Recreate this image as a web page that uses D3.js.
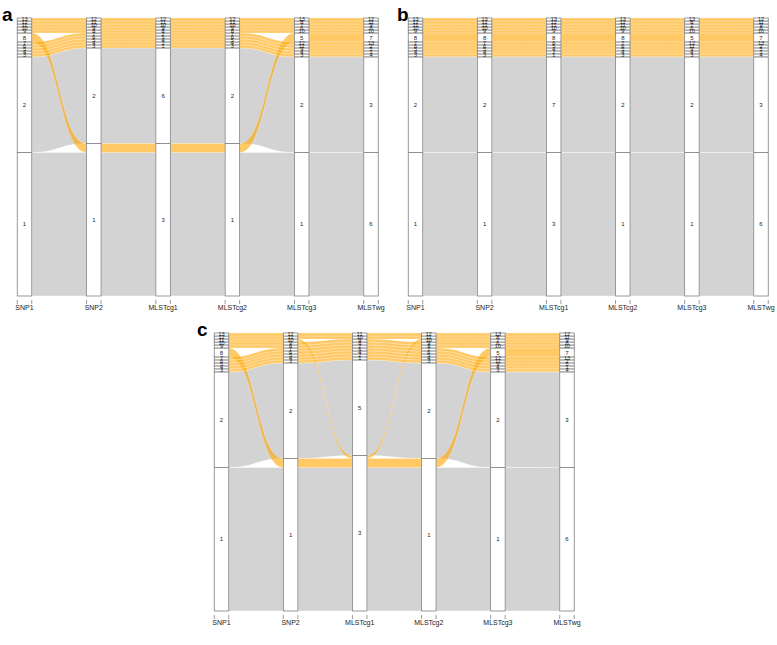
<!DOCTYPE html>
<html>
<head>
<meta charset="utf-8">
<script src="https://cdn.jsdelivr.net/npm/d3@7"></script>
<style>
  body { margin: 0; background: #fff; }
  svg { font-family: "Liberation Sans", Arial, sans-serif; }
</style>
</head>
<body>
<div id="chart"></div>
<script>
const W = 777, H = 645;
const BOX_W = 14.5;

const axes = ["SNP1", "SNP2", "MLSTcg1", "MLSTcg2", "MLSTcg3", "MLSTwg"];

// rows = groups of isolates, one cluster label per axis; counts = isolates in the group
// order of rows also gives stacking inside a stratum (first row at bottom)
const rowsA = [
  ["1", "1", "3", "1", "1", "6"],
  ["8", "1", "3", "1", "5", "7"],
  ["2", "2", "6", "2", "2", "3"],
  ["3", "3", "1", "3", "3", "4"],
  ["4", "4", "2", "4", "4", "1"],
  ["5", "5", "4", "5", "9", "5"],
  ["6", "6", "5", "6", "11", "2"],
  ["7", "7", "7", "7", "12", "13"],
  ["9", "8", "8", "8", "10", "10"],
  ["10", "9", "9", "9", "6", "8"],
  ["11", "10", "10", "10", "7", "9"],
  ["12", "11", "11", "11", "8", "11"],
  ["13", "12", "12", "12", "13", "12"]
];
const countsA = [48, 3, 32, 1, 1, 1, 1, 1, 1, 1, 1, 1, 1];
const orangeA = [false, true, false, true, true, true, true, true, true, true, true, true, true];
// strata per axis, bottom to top
const strataA = [
  ["1", "2", "3", "4", "5", "6", "7", "8", "9", "10", "11", "12", "13"],
  ["1", "2", "3", "4", "5", "6", "7", "8", "9", "10", "11", "12"],
  ["3", "6", "1", "2", "4", "5", "7", "8", "9", "10", "11", "12"],
  ["1", "2", "3", "4", "5", "6", "7", "8", "9", "10", "11", "12"],
  ["1", "2", "3", "4", "9", "11", "12", "5", "10", "6", "7", "8", "13"],
  ["6", "3", "4", "1", "5", "2", "13", "7", "10", "8", "9", "11", "12"]
];

const rowsB = [
  ["1", "1", "3", "1", "1", "6"],
  ["2", "2", "7", "2", "2", "3"],
  ["3", "3", "1", "3", "3", "4"],
  ["4", "4", "2", "4", "4", "1"],
  ["5", "5", "4", "5", "9", "5"],
  ["6", "6", "5", "6", "11", "2"],
  ["7", "7", "6", "7", "12", "13"],
  ["8", "8", "8", "8", "5", "7"],
  ["9", "9", "9", "9", "10", "10"],
  ["10", "10", "10", "10", "6", "8"],
  ["11", "11", "11", "11", "7", "9"],
  ["12", "12", "12", "12", "8", "11"],
  ["13", "13", "13", "13", "13", "12"]
];
const countsB = [48, 32, 1, 1, 1, 1, 1, 3, 1, 1, 1, 1, 1];
const orangeB = [false, false, true, true, true, true, true, true, true, true, true, true, true];
const strataB = [
  ["1", "2", "3", "4", "5", "6", "7", "8", "9", "10", "11", "12", "13"],
  ["1", "2", "3", "4", "5", "6", "7", "8", "9", "10", "11", "12", "13"],
  ["3", "7", "1", "2", "4", "5", "6", "8", "9", "10", "11", "12", "13"],
  ["1", "2", "3", "4", "5", "6", "7", "8", "9", "10", "11", "12", "13"],
  ["1", "2", "3", "4", "9", "11", "12", "5", "10", "6", "7", "8", "13"],
  ["6", "3", "4", "1", "5", "2", "13", "7", "10", "8", "9", "11", "12"]
];

const rowsC = [
  ["1", "1", "3", "1", "1", "6"],
  ["8", "1", "3", "1", "5", "7"],
  ["11", "10", "3", "10", "7", "9"],
  ["2", "2", "5", "2", "2", "3"],
  ["3", "3", "1", "3", "3", "4"],
  ["4", "4", "2", "4", "4", "1"],
  ["5", "5", "4", "5", "9", "5"],
  ["6", "6", "6", "6", "11", "2"],
  ["7", "7", "7", "7", "12", "13"],
  ["9", "8", "8", "8", "10", "10"],
  ["10", "9", "9", "9", "6", "8"],
  ["12", "11", "10", "11", "8", "11"],
  ["13", "12", "11", "12", "13", "12"]
];
const countsC = [48, 3, 1, 32, 1, 1, 1, 1, 1, 1, 1, 1, 1];
const orangeC = [false, true, true, false, true, true, true, true, true, true, true, true, true];
const strataC = [
  ["1", "2", "3", "4", "5", "6", "7", "8", "9", "10", "11", "12", "13"],
  ["1", "2", "3", "4", "5", "6", "7", "8", "9", "10", "11", "12"],
  ["3", "5", "1", "2", "4", "6", "7", "8", "9", "10", "11"],
  ["1", "2", "3", "4", "5", "6", "7", "8", "9", "10", "11", "12"],
  ["1", "2", "3", "4", "9", "11", "12", "5", "10", "6", "7", "8", "13"],
  ["6", "3", "4", "1", "5", "2", "13", "7", "10", "8", "9", "11", "12"]
];

const svg = d3.select("#chart")
  .append("svg")
  .attr("width", W)
  .attr("height", H);

function drawPanel(p) {
  const N = d3.sum(p.counts);
  const x = d3.scalePoint().domain(axes).range([p.x0, p.x1]);
  const y = d3.scaleLinear().domain([0, N]).range([p.bottom, p.top]);
  const hw = BOX_W / 2;

  // stack rows inside strata on every axis
  const pos = p.rows.map(() => []);
  const boxes = [];
  axes.forEach((a, j) => {
    let cum = 0;
    p.strata[j].forEach((s) => {
      const start = cum;
      p.rows.forEach((r, i) => {
        if (r[j] === s) {
          pos[i][j] = [cum, cum + p.counts[i]];
          cum += p.counts[i];
        }
      });
      boxes.push({ axis: a, label: s, lo: start, hi: cum });
    });
  });

  const g = svg.append("g");

  const flowPath = (i, j) => {
    const xa = x(axes[j]) + hw, xb = x(axes[j + 1]) - hw;
    const xm1 = xa + (xb - xa) * 0.5, xm2 = xb - (xb - xa) * 0.5;
    const ta = y(pos[i][j][1]), ba = y(pos[i][j][0]);
    const tb = y(pos[i][j + 1][1]), bb = y(pos[i][j + 1][0]);
    return `M${xa},${ta}C${xm1},${ta} ${xm2},${tb} ${xb},${tb}` +
      `L${xb},${bb}C${xm2},${bb} ${xm1},${ba} ${xa},${ba}Z`;
  };

  const segs = [];
  p.rows.forEach((r, i) => {
    for (let j = 0; j < axes.length - 1; j++) segs.push({ i, j, orange: p.orange[i] });
  });

  // gray flows below, orange ones on top
  g.selectAll("path.gray")
    .data(segs.filter((d) => !d.orange))
    .enter()
    .append("path")
    .attr("class", "gray")
    .attr("d", (d) => flowPath(d.i, d.j))
    .attr("fill", "#d3d3d3")
    .attr("stroke", "#fff")
    .attr("stroke-width", 0.4);

  g.selectAll("path.orange")
    .data(segs.filter((d) => d.orange))
    .enter()
    .append("path")
    .attr("class", "orange")
    .attr("d", (d) => flowPath(d.i, d.j))
    .attr("fill", "orange")
    .attr("fill-opacity", 0.6)
    .attr("stroke", "#fff")
    .attr("stroke-opacity", 0.6)
    .attr("stroke-width", 0.4);

  g.selectAll("rect.box")
    .data(boxes)
    .enter()
    .append("rect")
    .attr("class", "box")
    .attr("x", (d) => x(d.axis) - hw)
    .attr("y", (d) => y(d.hi))
    .attr("width", BOX_W)
    .attr("height", (d) => y(d.lo) - y(d.hi))
    .attr("fill", "#fff")
    .attr("stroke", "#808080")
    .attr("stroke-width", 0.8);

  g.selectAll("text.slab")
    .data(boxes)
    .enter()
    .append("text")
    .attr("class", "slab")
    .attr("x", (d) => x(d.axis))
    .attr("y", (d) => (y(d.lo) + y(d.hi)) / 2)
    .attr("dy", "0.35em")
    .attr("text-anchor", "middle")
    .attr("font-size", (d) => (d.hi - d.lo > 1 ? 6 : 5.5))
    .attr("fill", "#222")
    .text((d) => d.label);

  // ticks at both box edges, names under the boxes
  const ticks = axes.flatMap((a) => [x(a) - hw, x(a) + hw]);
  g.selectAll("line.tick")
    .data(ticks)
    .enter()
    .append("line")
    .attr("x1", (d) => d)
    .attr("x2", (d) => d)
    .attr("y1", p.bottom + 4)
    .attr("y2", p.bottom + 8)
    .attr("stroke", "#555")
    .attr("stroke-width", 0.6);

  g.selectAll("text.axis")
    .data(axes)
    .enter()
    .append("text")
    .attr("x", (d) => x(d))
    .attr("y", p.bottom + 14)
    .attr("text-anchor", "middle")
    .attr("font-size", 7)
    .attr("fill", "#222")
    .text((d) => d);

  svg.append("text")
    .attr("x", p.lx)
    .attr("y", p.ly)
    .attr("font-size", 19)
    .attr("font-weight", "bold")
    .text(p.letter);
}

drawPanel({ letter: "a", lx: 2, ly: 21, x0: 24.5, x1: 371, top: 18, bottom: 296,
  rows: rowsA, counts: countsA, orange: orangeA, strata: strataA });
drawPanel({ letter: "b", lx: 397, ly: 21, x0: 415.5, x1: 761, top: 18, bottom: 296,
  rows: rowsB, counts: countsB, orange: orangeB, strata: strataB });
drawPanel({ letter: "c", lx: 197, ly: 336, x0: 221.5, x1: 567, top: 333, bottom: 611,
  rows: rowsC, counts: countsC, orange: orangeC, strata: strataC });
</script>
</body>
</html>
